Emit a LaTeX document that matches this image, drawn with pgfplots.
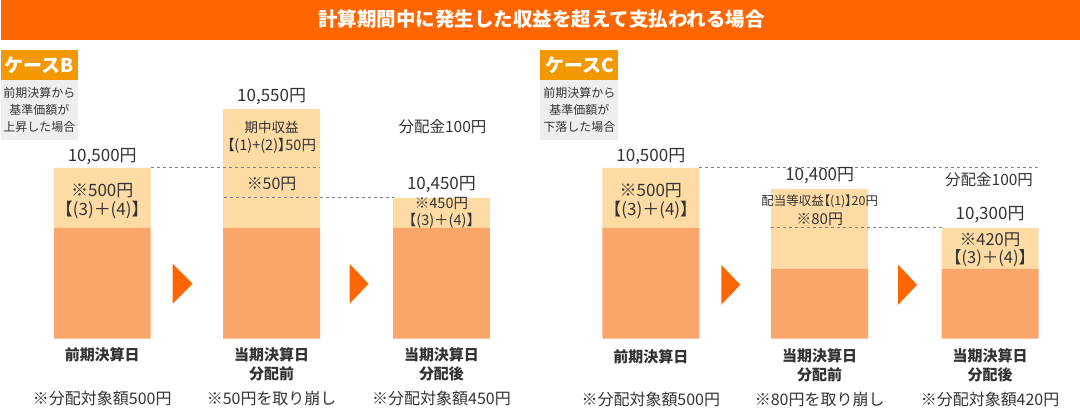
\documentclass[border=0pt]{standalone}
\usepackage{pgfplots}
\pgfplotsset{compat=1.18}
\usepackage{fontspec}
\setmainfont{Noto Sans CJK JP}
\definecolor{titleor}{HTML}{FF6600}
\definecolor{caseor}{HTML}{F39800}
\definecolor{lightb}{HTML}{FEDBA4}
\definecolor{darkb}{HTML}{FAA66A}
\definecolor{txt}{HTML}{333333}
\definecolor{grayb}{HTML}{EEEEEE}
\definecolor{dashc}{HTML}{808080}
\newcommand{\fs}[2]{\fontsize{#1bp}{#2bp}\selectfont}
\newcommand{\palt}{\addfontfeature{RawFeature=+palt}}
\begin{document}
\begin{tikzpicture}
\begin{axis}[
  at={(0,0)}, anchor=south west,
  scale only axis, width=1080bp, height=408bp,
  xmin=0, xmax=1080, ymin=-69, ymax=339,
  enlargelimits=false,
  axis lines=none, clip=false,
  ybar stacked, bar width=97,
]
\path (axis cs:0,-69) rectangle (axis cs:1080,339);
% bars: lower (base) part and upper part, heights in pixels above the common base line
\addplot[fill=darkb, draw=none] coordinates {(101.5,111) (271,111) (441,111) (650.5,111) (819.5,70) (990,70)};
\addplot[fill=lightb, draw=none] coordinates {(101.5,60) (271,119) (441,30) (650.5,60) (819.5,80) (990,41)};
\end{axis}
\begin{scope}[x=1bp, y=-1bp, shift={(0bp,408bp)}]
\fill[titleor] (0,0) rectangle (1080,40);
\fill[caseor] (0,50) rectangle (77,80);
\fill[grayb] (0,80) rectangle (77,140);
\fill[caseor] (540,50) rectangle (618,80);
\fill[grayb] (540,80) rectangle (618,140);
\fill[titleor] (172,264) -- (172,304) -- (192,284) -- cycle;
\fill[titleor] (349,264) -- (349,304) -- (368,284) -- cycle;
\fill[titleor] (721,265) -- (721,305) -- (740,285) -- cycle;
\fill[titleor] (898,265) -- (898,305) -- (917,285) -- cycle;

\draw[dashc, dash pattern=on 3bp off 3bp, line width=0.8bp] (150,168) -- (319,168);
\draw[dashc, dash pattern=on 3bp off 3bp, line width=0.8bp] (223,198) -- (393,198);
\draw[dashc, dash pattern=on 3bp off 3bp, line width=0.8bp] (699,168) -- (1038,168);
\draw[dashc, dash pattern=on 3bp off 3bp, line width=0.8bp] (771,228) -- (942,228);

\node[font=\fs{19.5}{22}\bfseries, text=white] at (541,19) {計算期間中に発生した収益を超えて支払われる場合};
\node[font=\fs{19}{22}\bfseries, text=white] at (38.5,65) {ケースB};
\node[font=\fs{12}{17}, text=txt, align=center] at (38.5,110) {前期決算から\\基準価額が\\上昇した場合};
\node[font=\fs{19}{22}\bfseries, text=white] at (579,65) {ケースC};
\node[font=\fs{12}{17}, text=txt, align=center] at (579,110) {前期決算から\\基準価額が\\下落した場合};

% Case B texts
\node[font=\fs{17}{18}, text=txt] at (101.5,157) {10,500円};
\node[font=\fs{17}{18}, text=txt] at (101.5,191) {※500円};
\node[font=\fs{17}{18}, text=txt] at (101.5,210) {【(3)＋(4)】};
\node[font=\fs{17}{18}, text=txt] at (271,97) {10,550円};
\node[font=\fs{13.5}{15}, text=txt] at (271,127) {期中収益};
\node[font=\fs{14.5}{15}\palt, text=txt] at (271,146) {【(1)+(2)】50円};
\node[font=\fs{16}{18}, text=txt] at (271,184) {※50円};
\node[font=\fs{15.5}{18}, text=txt] at (442,127) {分配金100円};
\node[font=\fs{17}{18}, text=txt] at (441,185) {10,450円};
\node[font=\fs{14.5}{16}, text=txt] at (441,204) {※450円};
\node[font=\fs{14.5}{16}, text=txt] at (441,221) {【(3)＋(4)】};

\node[font=\fs{15}{18}\bfseries, text=txt] at (101.5,355) {前期決算日};
\node[font=\fs{15}{19}\bfseries, text=txt, align=center] at (271,364.5) {当期決算日\\分配前};
\node[font=\fs{15}{19}\bfseries, text=txt, align=center] at (441,364.5) {当期決算日\\分配後};
\node[font=\fs{16}{18}, text=txt] at (101.5,399) {※分配対象額500円};
\node[font=\fs{16}{18}, text=txt] at (271,399) {※50円を取り崩し};
\node[font=\fs{16}{18}, text=txt] at (441,399) {※分配対象額450円};

% Case C texts
\node[font=\fs{17}{18}, text=txt] at (650.5,157) {10,500円};
\node[font=\fs{17}{18}, text=txt] at (650.5,191) {※500円};
\node[font=\fs{17}{18}, text=txt] at (650.5,210) {【(3)＋(4)】};
\node[font=\fs{17}{18}, text=txt] at (819.5,176) {10,400円};
\node[font=\fs{12.5}{14}\palt, text=txt] at (819.5,202) {配当等収益【(1)】20円};
\node[font=\fs{15}{18}, text=txt] at (819.5,219) {※80円};
\node[font=\fs{15.5}{18}, text=txt] at (989,180) {分配金100円};
\node[font=\fs{17}{18}, text=txt] at (990,215) {10,300円};
\node[font=\fs{16.5}{18}, text=txt] at (990,240) {※420円};
\node[font=\fs{16.5}{18}, text=txt] at (990,258) {【(3)＋(4)】};

\node[font=\fs{15}{18}\bfseries, text=txt] at (650.5,357) {前期決算日};
\node[font=\fs{15}{19}\bfseries, text=txt, align=center] at (819.5,366) {当期決算日\\分配前};
\node[font=\fs{15}{19}\bfseries, text=txt, align=center] at (990,366) {当期決算日\\分配後};
\node[font=\fs{16}{18}, text=txt] at (650.5,400) {※分配対象額500円};
\node[font=\fs{16}{18}, text=txt] at (819.5,400) {※80円を取り崩し};
\node[font=\fs{16}{18}, text=txt] at (990,400) {※分配対象額420円};
\end{scope}
\end{tikzpicture}
\end{document}
